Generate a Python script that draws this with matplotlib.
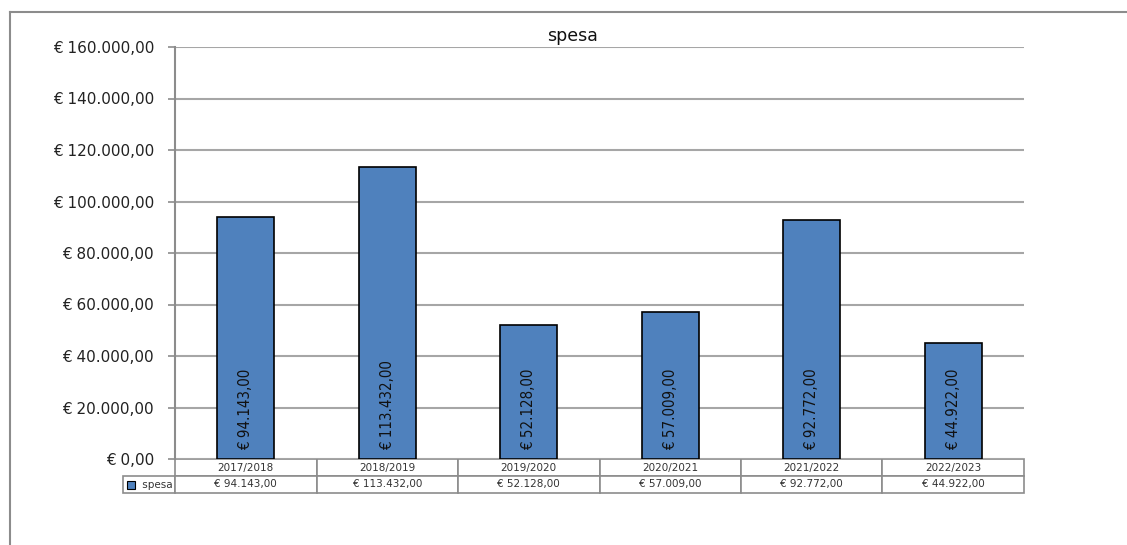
import matplotlib
matplotlib.use("Agg")
import matplotlib.pyplot as plt
from matplotlib.patches import Rectangle
from matplotlib.lines import Line2D
from matplotlib.ticker import FuncFormatter
from matplotlib import font_manager as fm

categories = ["2017/2018", "2018/2019", "2019/2020", "2020/2021", "2021/2022", "2022/2023"]
spesa = [94143.00, 113432.00, 52128.00, 57009.00, 92772.00, 44922.00]
series_name = "spesa"
title = "spesa"

def eur(v):
    s = f"{v:,.2f}"
    s = s.replace(",", "X").replace(".", ",").replace("X", ".")
    return "€ " + s

# look for a condensed / narrow face for the bar labels
narrow = None
for f in fm.fontManager.ttflist:
    n = (f.name + " " + f.fname).lower()
    if ("narrow" in n or "condensed" in n) and "bold" not in f.fname.lower() and "italic" not in f.fname.lower() \
            and "oblique" not in f.fname.lower() and f.style == "normal":
        narrow = f
        break
if narrow is not None:
    label_fp = fm.FontProperties(fname=narrow.fname, size=10.8)
else:
    label_fp = fm.FontProperties(family="DejaVu Sans", size=9.5)

W, H = 1127, 545
fig = plt.figure(figsize=(W / 100, H / 100), dpi=100)
fig.patch.set_facecolor("white")

# outer chart frame (top and left edges)
fig.add_artist(Line2D([10 / W, 1.0], [1 - 12 / H, 1 - 12 / H], color="#8c8c8c", lw=1.5))
fig.add_artist(Line2D([10 / W, 10 / W], [0, 1 - 12 / H], color="#8c8c8c", lw=1.5))

left, right, top, bottom = 175, 1024, 47, 459
ax = fig.add_axes([left / W, 1 - bottom / H, (right - left) / W, (bottom - top) / H])

x = list(range(len(categories)))
ax.bar(x, spesa, width=0.4, color="#4F81BD", edgecolor="black", linewidth=1.2, zorder=3)
ax.set_xlim(-0.5, len(categories) - 0.5)
ax.set_ylim(0, 160000)
ax.set_yticks(range(0, 160001, 20000))
ax.yaxis.set_major_formatter(FuncFormatter(lambda v, p: eur(v)))
ax.tick_params(axis="y", length=5, width=1.2, color="#8c8c8c", pad=10, labelsize=11, labelcolor="#222222")
ax.set_xticks([])
ax.grid(axis="y", color="#a6a6a6", lw=1.5, zorder=0)
for s in ["top", "right", "bottom"]:
    ax.spines[s].set_visible(False)
ax.spines["left"].set_color("#8c8c8c")
ax.spines["left"].set_linewidth(1.5)

for xi, v in zip(x, spesa):
    ax.annotate(eur(v), (xi, 0), xytext=(0, 9), textcoords="offset pixels",
                rotation=90, ha="center", va="bottom", fontproperties=label_fp,
                color="#111111", zorder=4)

fig.text(573 / W, 1 - 36 / H, title, ha="center", va="center", fontsize=12.5, color="#111111")

# data table below axis
axh = bottom - top
axw = right - left
lab_w = 52
rowh = 17
cell_text = [[""] + categories, [series_name] + [eur(v) for v in spesa]]
colw = [lab_w / axw] + [1 / 6] * 6
tbl = ax.table(cellText=cell_text, colWidths=colw, cellLoc="center",
               bbox=[-lab_w / axw, -2 * rowh / axh, 1 + lab_w / axw, 2 * rowh / axh])
tbl.auto_set_font_size(False)
tbl.set_fontsize(7.5)
for (r, c), cell in tbl.get_celld().items():
    cell.set_edgecolor("#8c8c8c")
    cell.set_linewidth(1.2)
    cell.get_text().set_color("#333333")
    if r == 0 and c == 0:
        cell.visible_edges = ""
    if r == 1 and c == 0:
        cell.get_text().set_text("     " + series_name)
        cell._loc = "left"

# legend key swatch in table row label
sw = 8
ax.add_patch(Rectangle(((-lab_w + 4) / axw, (-rowh - rowh / 2 - sw / 2) / axh), sw / axw, sw / axh,
                       transform=ax.transAxes, facecolor="#4F81BD", edgecolor="black", lw=0.8,
                       clip_on=False, zorder=5))

fig.savefig("out.png", dpi=100)
